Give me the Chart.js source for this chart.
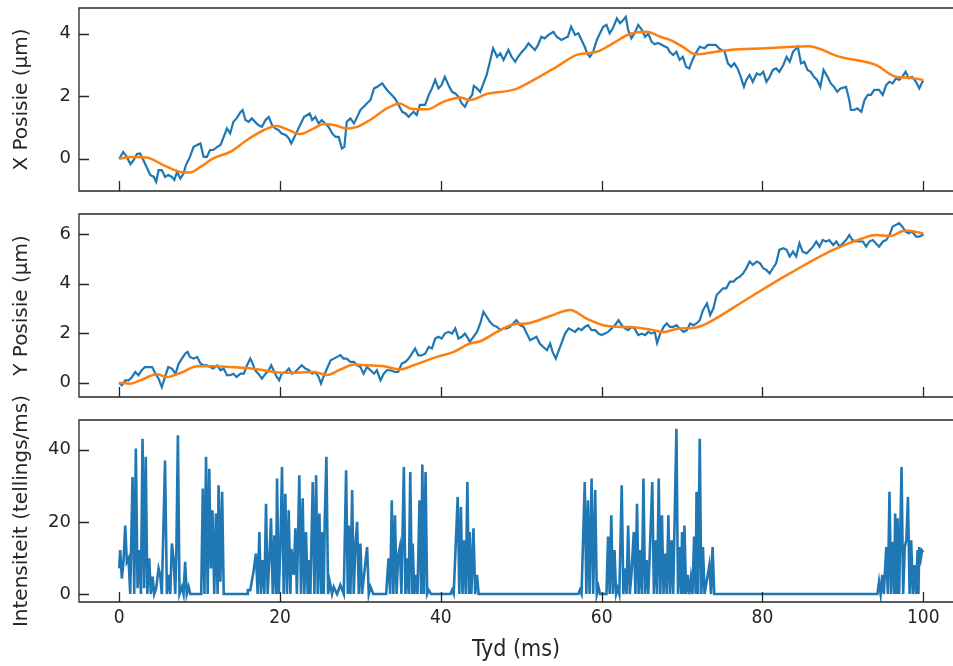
<!DOCTYPE html>
<html lang="af">
<head>
<meta charset="UTF-8">
<title>Posisie en intensiteit</title>
<script src="https://cdn.jsdelivr.net/npm/chart.js"></script>
<style>
  body { margin: 0; background: #ffffff; overflow: hidden; }
  #wrap { position: relative; width: 953px; height: 666px; }
  #wrap canvas { position: absolute; left: 0; top: 0; }
</style>
</head>
<body>
<div id="wrap">
  <canvas id="pos-x" width="953" height="666"></canvas>
  <canvas id="pos-y" width="953" height="666"></canvas>
  <canvas id="intens" width="953" height="666"></canvas>
</div>
<script>
// --- data -----------------------------------------------------------------
const timeTicks = [0, 20, 40, 60, 80, 100];
const xPosTicks = [0, 2, 4];
const yPosTicks = [0, 2, 4, 6];
const intTicks = [0, 20, 40];

// X position, raw trace (ms, µm)
const xRawT = [0,0.5,0.95,1.4,1.8,2.2,2.6,3.0,3.4,3.86,4.3,4.6,4.9,5.3,5.7,6.1,6.55,6.85,7.2,7.6,8.0,8.3,8.8,9.25,9.7,10.1,10.5,10.9,11.3,11.7,12.2,12.6,13.0,13.4,13.8,14.2,14.6,15.1,15.35,15.7,16.1,16.5,16.9,17.3,17.75,18.2,18.6,19.0,19.4,19.8,20.2,20.7,21.1,21.4,21.7,22.1,22.5,23.0,23.4,23.7,24.0,24.4,24.8,25.2,25.6,26.05,26.5,26.9,27.3,27.7,28.0,28.3,28.75,29.2,29.6,30.0,30.4,30.8,31.25,31.7,32.1,32.7,33.3,33.9,34.3,34.75,35.2,35.6,36.0,36.6,37.0,37.4,38.05,38.5,38.9,39.3,39.7,40.1,40.5,40.95,41.4,41.8,42.2,42.6,43.0,43.4,43.9,44.1,44.5,44.9,45.3,45.7,46.1,46.5,47.0,47.4,47.8,48.4,48.8,49.25,49.6,50.1,50.5,50.9,51.3,51.7,52.1,52.5,52.9,53.4,54.0,54.4,55.0,55.4,55.8,56.2,56.7,57.1,57.5,57.9,58.2,58.55,58.95,59.4,59.8,60.2,60.6,61.0,61.4,61.9,62.3,62.7,63.0,63.3,63.7,64.1,64.55,65.0,65.4,65.8,66.2,66.6,67.0,67.4,67.8,68.2,68.45,68.9,69.3,69.7,70.1,70.5,70.9,71.3,71.7,72.2,72.8,73.2,73.6,74.2,74.6,75.3,75.7,76.1,76.5,76.9,77.3,77.7,78.0,78.4,78.8,79.3,79.7,80.1,80.5,80.9,81.3,81.7,82.1,82.6,83.0,83.4,83.8,84.4,84.8,85.2,85.6,86.0,86.4,86.8,87.2,87.6,88.1,88.5,88.9,89.3,89.7,90.4,90.8,91.0,91.4,91.8,92.3,92.7,93.1,93.5,93.9,94.5,94.96,95.4,95.8,96.2,96.6,97.0,97.4,97.8,98.2,98.6,99.1,99.5,99.9,100];
const xRawV = [0,0.22,0.06,-0.17,-0.04,0.15,0.17,-0.04,-0.26,-0.52,-0.58,-0.74,-0.36,-0.36,-0.58,-0.52,-0.58,-0.68,-0.42,-0.63,-0.47,-0.2,0.06,0.38,0.44,0.49,0.06,0.06,0.28,0.28,0.38,0.44,0.7,0.97,0.81,1.18,1.29,1.5,1.56,1.24,1.18,1.29,1.18,1.08,1.02,1.24,1.34,1.08,0.97,0.92,0.81,0.76,0.65,0.49,0.65,0.86,1.08,1.34,1.4,1.45,1.24,1.34,1.13,1.24,1.13,1.02,0.81,0.7,0.7,0.33,0.38,1.18,1.29,1.13,1.34,1.56,1.66,1.77,1.88,2.25,2.3,2.41,2.2,2.04,1.93,1.72,1.5,1.45,1.34,1.5,1.4,1.72,1.72,2.04,2.25,2.52,2.25,2.36,2.62,2.36,2.14,2.09,1.98,1.77,1.66,1.88,2.04,2.33,2.25,2.14,2.41,2.68,3.1,3.53,3.26,3.37,3.16,3.48,3.26,3.1,3.26,3.42,3.53,3.69,3.58,3.48,3.64,3.9,3.85,3.96,4.06,3.9,3.8,3.85,3.9,4.22,3.96,4.01,3.8,3.58,3.37,3.26,3.42,3.8,4.01,4.22,4.28,4.01,4.17,4.49,4.33,4.44,4.54,4.12,3.85,4.01,4.28,4.12,3.9,4.0,3.75,3.66,3.7,3.65,3.6,3.55,3.42,3.32,3.42,3.16,3.26,2.94,2.89,3.16,3.37,3.58,3.53,3.64,3.64,3.64,3.53,3.42,3.05,2.94,3.05,2.89,2.62,2.3,2.52,2.68,2.46,2.73,2.68,2.78,2.46,2.62,2.84,2.89,2.78,3.0,3.26,3.1,3.42,3.58,3.05,3.1,2.84,2.78,2.62,2.52,2.3,2.84,2.62,2.41,2.3,2.14,2.25,2.3,1.88,1.56,1.56,1.61,1.5,1.88,2.04,2.04,2.2,2.2,2.04,2.36,2.46,2.41,2.57,2.52,2.62,2.78,2.57,2.62,2.46,2.25,2.46,2.5];

// X position, smoothed fit
const xFitT = [0,1.4,3.4,5.5,7.6,8.8,10.1,11.7,13.8,15.9,18.0,19.6,20.9,22.5,24.2,25.4,26.7,28.3,29.6,31.2,33.3,34.9,36.2,38.3,40.3,42.4,43.6,45.7,49.2,51.9,54.4,56.9,59.4,61.4,63.5,65.6,67.3,68.5,70.1,71.7,74.2,75.9,80.5,83.8,85.7,89.6,94.1,96.6,98.3,100];
const xFitV = [0,0.06,0.04,-0.2,-0.42,-0.44,-0.26,0.01,0.22,0.6,0.92,1.05,0.94,0.79,0.97,1.11,1.08,0.97,1.02,1.24,1.61,1.77,1.61,1.58,1.82,1.96,1.88,2.07,2.22,2.57,2.94,3.32,3.42,3.69,3.99,4.06,3.9,3.8,3.58,3.34,3.42,3.48,3.53,3.58,3.6,3.26,3.0,2.62,2.59,2.52];

// Y position, raw trace
const yRawT = [0,0.33,0.75,1.16,1.6,2.0,2.4,2.8,3.2,3.65,4.1,4.5,4.9,5.3,5.7,6.1,6.55,7.0,7.4,7.8,8.2,8.5,8.8,9.25,9.7,10.1,10.5,10.9,11.3,11.7,12.2,12.6,13.0,13.4,13.8,14.2,14.6,15.1,15.5,15.9,16.3,16.6,16.9,17.3,17.75,18.2,18.6,18.9,19.2,19.6,19.9,20.2,20.7,21.1,21.5,21.9,22.3,22.7,23.15,23.6,24.0,24.4,24.8,25.1,25.4,25.85,26.3,26.7,27.1,27.5,27.9,28.3,28.75,29.2,29.6,30.0,30.4,30.8,31.25,31.7,32.05,32.5,32.9,33.3,33.7,34.3,34.7,35.15,35.6,36.0,36.4,36.8,37.2,37.6,38.05,38.5,38.9,39.3,39.7,40.1,40.5,40.95,41.4,41.8,42.2,42.6,43.0,43.4,43.6,44.05,44.5,44.9,45.3,45.7,46.1,46.5,47.0,47.4,47.8,48.2,48.6,49.0,49.4,49.85,50.3,50.7,51.1,51.5,51.9,52.3,52.75,53.2,53.6,53.9,54.3,54.6,55.0,55.45,55.9,56.3,56.7,57.1,57.5,57.9,58.3,58.75,59.2,59.6,60.0,60.4,60.8,61.25,61.65,62.1,62.5,62.9,63.3,63.7,64.1,64.55,65.0,65.4,65.8,66.2,66.6,66.9,67.25,67.7,68.1,68.5,68.9,69.3,69.7,70.2,70.6,71.0,71.4,71.8,72.2,72.6,73.1,73.5,73.9,74.3,74.7,75.1,75.5,75.95,76.4,76.8,77.2,77.6,78.0,78.4,78.8,79.3,79.7,80.1,80.5,80.9,81.3,81.7,82.1,82.6,83.0,83.4,83.8,84.2,84.6,85.0,85.5,85.9,86.3,86.7,87.1,87.5,87.9,88.3,88.8,89.2,89.6,90.0,90.4,90.8,91.2,91.65,92.1,92.5,92.9,93.3,93.7,94.1,94.5,95.0,95.4,95.8,96.2,96.6,97.0,97.4,97.8,98.2,98.6,99.1,99.5,99.9,100];
const yRawV = [0,-0.11,0.09,0.09,0.23,0.43,0.3,0.5,0.63,0.63,0.63,0.36,0.16,-0.18,0.23,0.63,0.57,0.36,0.77,0.97,1.17,1.24,1.04,0.97,1.04,0.77,0.7,0.7,0.63,0.57,0.7,0.5,0.57,0.3,0.3,0.36,0.23,0.36,0.36,0.7,0.97,0.77,0.5,0.36,0.16,0.36,0.5,0.7,0.5,0.23,0.09,0.36,0.43,0.57,0.36,0.43,0.57,0.7,0.57,0.5,0.36,0.43,0.23,-0.04,0.23,0.57,0.9,0.97,1.04,1.11,0.97,0.97,0.84,0.84,0.7,0.63,0.36,0.63,0.5,0.36,0.5,0.09,0.36,0.5,0.5,0.43,0.43,0.77,0.84,0.97,1.17,1.38,1.1,1.1,1.17,1.44,1.38,1.78,1.85,1.78,1.98,2.05,1.98,2.19,1.78,1.85,1.98,1.78,1.65,1.85,2.05,2.39,2.86,2.66,2.46,2.32,2.25,2.12,2.19,2.19,2.25,2.39,2.52,2.32,2.25,1.98,1.71,1.78,1.85,1.58,1.44,1.31,1.58,1.24,0.97,1.24,1.58,1.98,2.19,2.12,2.05,2.19,2.12,2.25,2.32,2.12,2.12,1.98,1.92,1.98,2.05,2.19,2.32,2.52,2.32,2.19,2.12,2.25,2.19,1.92,1.98,1.92,2.05,1.98,2.05,1.6,1.95,2.25,2.39,2.25,2.25,2.32,2.19,2.05,2.12,2.39,2.32,2.39,2.52,2.93,3.2,2.73,3.0,3.54,3.67,3.81,3.81,4.08,4.08,4.21,4.28,4.41,4.62,4.89,4.76,4.89,4.82,4.62,4.55,4.41,4.62,4.82,5.36,5.43,5.36,5.09,5.29,5.09,5.63,5.29,5.22,5.36,5.49,5.7,5.49,5.76,5.7,5.76,5.56,5.7,5.49,5.63,5.76,5.96,5.76,5.7,5.7,5.7,5.49,5.7,5.76,5.63,5.49,5.7,5.76,5.96,6.3,6.37,6.44,6.3,6.1,6.03,6.1,5.9,5.9,5.96,6.0];

// Y position, smoothed fit
const yFitT = [0,1.4,2.6,4.7,5.9,7.6,9.7,11.7,13.8,15.9,18.0,20.0,22.1,24.2,25.85,27.5,29.2,30.8,32.9,34.95,36.6,39.5,41.6,43.6,44.9,47.0,49.0,50.7,53.6,56.1,58.1,60.2,62.3,64.3,66.4,67.7,69.3,71.8,73.1,78.4,83.4,88.8,92.5,94.1,95.8,97.8,100];
const yFitV = [0,-0.04,0.09,0.34,0.23,0.39,0.66,0.66,0.63,0.59,0.5,0.4,0.4,0.43,0.31,0.53,0.73,0.7,0.66,0.53,0.7,1.04,1.24,1.58,1.67,2.05,2.35,2.39,2.69,2.93,2.59,2.32,2.25,2.23,2.12,2.04,2.17,2.23,2.39,3.44,4.41,5.36,5.83,5.96,5.92,6.14,6.03];

// photon count rate (counts/ms)
const intT = [0,0.12,0.33,0.54,0.75,0.95,1.16,1.37,1.66,1.87,2.07,2.28,2.49,2.7,2.9,3.1,3.3,3.5,3.73,3.94,4.15,4.36,4.6,4.9,5.1,5.3,5.7,5.93,6.14,6.35,6.55,6.76,6.97,7.1,7.3,7.5,7.8,8.0,8.2,8.4,8.63,8.84,10.1,
  10.2,10.4,10.6,10.8,11.0,11.2,11.4,11.6,11.82,12.03,12.24,12.36,12.58,12.8,13.0,13.4,15.9,
  16.0,16.3,16.7,17.0,17.22,17.43,17.63,17.84,18.05,18.26,18.46,18.67,18.88,19.1,19.3,19.5,19.63,19.84,20.04,20.25,20.46,20.66,20.87,21.08,21.29,21.41,21.7,21.91,22.1,22.4,22.61,22.82,23.02,23.23,23.44,23.65,23.78,24.07,24.28,24.49,24.69,24.9,25.1,25.23,25.44,25.56,25.77,25.98,26.18,26.47,26.68,27.1,27.5,27.93,28.22,28.43,28.55,28.76,28.97,29.17,29.38,29.59,29.8,30.0,30.2,30.83,31.04,31.25,31.6,33.2,
  33.5,33.7,33.9,34.1,34.3,34.5,34.7,34.9,35.1,35.4,35.6,35.8,36.0,36.2,36.4,36.5,36.7,36.9,37.1,37.35,37.55,37.7,37.9,38.1,38.3,38.5,38.8,41.2,
  41.4,41.6,42.1,42.3,42.5,42.7,42.9,43.1,43.3,43.5,43.6,43.8,44.06,44.27,44.5,44.7,57.1,
  57.3,57.5,57.9,58.1,58.3,58.5,58.75,58.95,59.2,59.4,59.6,59.8,60.6,60.8,61.0,61.2,61.4,61.6,61.8,62.0,62.2,62.5,62.7,62.9,63.1,63.3,63.5,63.7,64.0,64.2,64.4,64.6,64.8,65.0,65.2,65.4,65.6,65.8,66.0,66.3,66.5,66.7,66.9,67.1,67.3,67.5,67.7,67.9,68.1,68.3,68.5,68.7,68.9,69.3,69.5,69.7,69.9,70.0,70.2,70.3,70.5,70.7,70.9,71.1,71.3,71.5,71.7,71.8,72.0,72.2,72.4,72.6,72.8,73.4,73.6,73.8,74.0,94.3,
  94.5,94.7,94.9,95.1,95.4,95.6,95.8,96.0,96.2,96.4,96.5,96.7,96.8,97.0,97.3,97.5,97.7,97.9,98.1,98.3,98.5,98.7,98.9,99.1,99.3,99.4,99.5,99.7,99.85,100];
const intV = [7.1,12.2,4.3,9.4,19,8.9,9.9,0,32.4,0,40.3,1.6,12.2,0,43,1.6,38,0,9.9,0,4.8,0,1.6,7.1,5.3,0,37,0,5.3,0,14,9.9,0,10.4,44,0,2,0,8.9,0,2,0,0,
  0,29.2,0,38,0,34.7,7.1,23.2,0,22.3,0,30.1,3.4,28.3,0,0,0,
  1.1,1.1,6.2,11.2,0,17.2,0,9.4,0,25,0,9.4,21,0,16.3,0,32,0,12.5,35.2,0,27.8,0,23.2,0,12.5,5.3,18.2,0,32.9,0,26.5,0,17.2,0,9.4,0,31,0,32.9,0,22.3,0,17.2,0,20,38,0,3.4,0,2,0,2.5,0,34.3,0,19,0,28.8,0,13.6,20,0,14,0,13,0,2,0,0,
  9.9,0,26,0,21.8,0,10.8,13,0,35.2,0,9.9,0,33.8,0,14,0,5.3,0,26,0,35.9,0,33.8,0,1.1,0,0,
  1.1,0,26.9,0,24.1,0,14.9,0,31,0,17.2,0,18.2,0,5.3,0,0,
  1.1,0,31,0,26,0,32,0,28.8,0,2,0,0,15.9,0,21.8,0,12.2,0,1.6,0,30.1,0,7.1,0,19,0,5.3,17.2,0,25,0,12.2,0,32,0,9.4,0,12.2,31,0,14.9,0,32,0,21.8,0,11.2,0,21.8,0,14.9,0,45.8,0,13,0,17.2,0,19,0,5.3,0,4.4,0,15.9,0,28.3,0,43,0,13,0,8,0,13,0,0,
  3.4,0,5.3,0,13,0,28.3,0,14.5,0,22.3,0,21,0,35.2,0,13,15,26.9,0,14.9,0,8,0,12.2,0,13,9.9,12,11.5];

// --- drawing ----------------------------------------------------------------
const INK = '#262626';
const BLUE = '#1f77b4';
const ORANGE = '#ff7f0e';
const H = 666;
const SANS = "'DejaVu Sans', 'Liberation Sans', sans-serif";
const NARROW = "'DejaVu Sans Condensed', 'Liberation Sans Narrow', 'DejaVu Sans', sans-serif";

const pts = (ts, vs) => ts.map((t, i) => ({ x: t, y: vs[i] }));

// box on left/top/bottom with inward tick marks
const frame = {
  id: 'frame',
  afterDatasetsDraw(chart) {
    const { ctx, chartArea: a, scales: { x, y } } = chart;
    ctx.save();
    ctx.strokeStyle = INK;
    ctx.lineWidth = 1.3;
    ctx.beginPath();
    ctx.moveTo(a.right + 2, a.top);
    ctx.lineTo(a.left, a.top);
    ctx.lineTo(a.left, a.bottom);
    ctx.lineTo(a.right + 2, a.bottom);
    x.ticks.forEach(t => {
      const px = Math.round(x.getPixelForValue(t.value)) + 0.5;
      ctx.moveTo(px, a.bottom);
      ctx.lineTo(px, a.bottom - 10);
    });
    y.ticks.forEach(t => {
      const py = Math.round(y.getPixelForValue(t.value)) + 0.5;
      ctx.moveTo(a.left, py);
      ctx.lineTo(a.left + 10, py);
    });
    ctx.stroke();
    ctx.restore();
  }
};

function panel(id, datasets, o) {
  return new Chart(document.getElementById(id), {
    type: 'line',
    data: { datasets },
    options: {
      responsive: false,
      animation: false,
      devicePixelRatio: 1,
      events: [],
      layout: { padding: { top: o.top, bottom: o.padBottom, left: 0, right: 0 } },
      plugins: { legend: { display: false }, tooltip: { enabled: false } },
      elements: { point: { radius: 0 } },
      scales: {
        x: {
          type: 'linear',
          min: -5,
          max: 103.7,
          grid: { display: false, drawTicks: false },
          border: { display: false },
          afterBuildTicks: s => { s.ticks = timeTicks.map(v => ({ value: v })); },
          afterFit: s => { s.height = o.xHeight; s.paddingLeft = 0; s.paddingRight = 0; },
          ticks: {
            display: o.showX,
            color: INK,
            padding: 5,
            maxRotation: 0,
            font: { family: NARROW, size: 19 }
          },
          title: {
            display: o.showX,
            text: 'Tyd (ms)',
            color: INK,
            padding: { top: 0, bottom: 2 },
            font: { family: NARROW, size: 23 }
          }
        },
        y: {
          min: o.ymin,
          max: o.ymax,
          grid: { display: false, drawTicks: false },
          border: { display: false },
          afterBuildTicks: s => { s.ticks = o.yticks.map(v => ({ value: v })); },
          afterFit: s => { s.width = 79; s.paddingTop = 0; s.paddingBottom = 0; },
          ticks: {
            color: INK,
            padding: 8,
            font: { family: SANS, size: 18 }
          },
          title: {
            display: true,
            text: o.ylabel,
            color: INK,
            padding: { top: 10, bottom: 0 },
            font: { family: SANS, size: 20 }
          }
        }
      }
    },
    plugins: [frame]
  });
}

const raw = (d, w) => ({ data: d, borderColor: BLUE, borderWidth: w, tension: 0, order: 1 });
const fit = (d) => ({ data: d, borderColor: ORANGE, borderWidth: 2.5, cubicInterpolationMode: 'monotone', order: 0 });

panel('pos-x', [fit(pts(xFitT, xFitV)), raw(pts(xRawT, xRawV), 2.2)], {
  top: 8, padBottom: H - 191, xHeight: 0, showX: false,
  ymin: -1.03, ymax: 4.82, yticks: xPosTicks, ylabel: 'X Posisie (μm)'
});

panel('pos-y', [fit(pts(yFitT, yFitV)), raw(pts(yRawT, yRawV), 2.2)], {
  top: 214, padBottom: H - 397, xHeight: 0, showX: false,
  ymin: -0.58, ymax: 6.81, yticks: yPosTicks, ylabel: 'Y Posisie (μm)'
});

panel('intens', [raw(pts(intT, intV), 2.6)], {
  top: 420, padBottom: 0, xHeight: 64, showX: true,
  ymin: -2.2, ymax: 48.2, yticks: intTicks, ylabel: 'Intensiteit (tellings/ms)'
});
</script>
</body>
</html>
